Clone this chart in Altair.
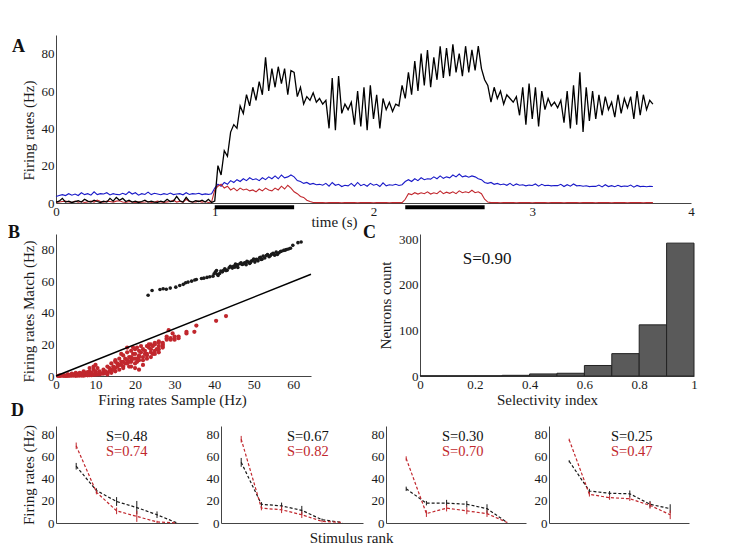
import altair as alt
import pandas as pd

FONT = "Liberation Serif"
RED = "#c1272d"
BLUE = "#1a1ac8"
INK = "#111111"

# ---------------- Panel A: firing-rate traces (sampled every 0.02 s) ----------------
SAMPLE_STEP = 0.02
black_rate = [
    0.5, 1.0, 2.5, 0.5, 1.0, 0.3, 0.8, 1.2, 0.5, 2.0,
    1.0, 0.5, 1.5, 0.8, 0.3, 1.0, 0.5, 2.5, 1.0, 3.0,
    1.5, 2.5, 0.8, 1.5, 0.5, 1.0, 0.3, 0.8, 1.5, 0.5,
    1.0, 0.5, 0.3, 1.0, 0.5, 2.0, 0.8, 1.0, 3.5, 1.2,
    0.5, 3.0, 1.0, 0.5, 1.2, 0.8, 1.5, 0.5, 2.0, 0.3,
    1, 20, 15, 28, 25, 38, 42, 40, 52, 48,
    58, 52, 62, 55, 65, 58, 78, 60, 72, 62,
    73, 64, 72, 58, 71, 70, 57, 62, 53, 57,
    55, 59, 54, 56, 53, 55, 40, 67, 39, 68,
    48, 53, 50, 54, 42, 60, 41, 62, 39, 63,
    45, 58, 40, 56, 50, 54, 49, 53, 52, 63,
    56, 70, 58, 76, 60, 80, 63, 82, 62, 78,
    66, 84, 67, 83, 68, 85, 70, 80, 68, 84,
    70, 82, 71, 84, 72, 66, 63, 54, 62, 56,
    60, 53, 58, 56, 54, 57, 47, 62, 42, 64,
    45, 62, 41, 60, 50, 56, 52, 54, 51, 55,
    43, 60, 40, 63, 42, 70, 38, 62, 44, 60,
    45, 58, 47, 57, 50, 54, 46, 58, 48, 56,
    51, 57, 45, 60, 47, 58, 50, 55, 53,
]
blue_rate = [
    3.5, 4.0, 4.5, 4.0, 5.0, 4.2, 4.8, 4.0, 5.5, 4.5,
    5.0, 4.2, 6.0, 4.5, 5.0, 4.8, 5.5, 4.3, 5.0, 4.6,
    4.4, 5.2, 4.5, 6.0, 4.8, 5.5, 4.2, 5.0, 4.6, 5.8,
    4.5, 5.2, 4.8, 4.4, 5.0, 4.6, 5.3, 4.5, 4.8, 5.0,
    4.4, 5.5, 4.6, 5.0, 4.8, 5.2, 4.5, 4.9, 4.6, 5.0,
    8, 10, 9, 11, 10, 12, 11, 12.5, 11.5, 13,
    12, 13.5, 12.5, 13, 12, 13.5, 12.5, 14, 13, 14.5,
    13, 15, 13.5, 14, 15, 14, 12, 11.5, 10.5, 11,
    10, 10.5, 9.8, 10, 9.5, 10.5, 9, 11, 9.5, 10,
    8.8, 9.5, 9.2, 10.5, 9, 11, 9.3, 10, 9, 10.5,
    9.5, 10, 8.8, 10.8, 9.2, 9.8, 9.5, 10, 9.4, 9.8,
    11.5, 12.5, 11.5, 13, 12, 13.5, 12.5, 13, 12.8, 14,
    13, 14.5, 13.2, 14, 13.5, 15, 14, 15.5, 14, 14.5,
    13.8, 14.5, 14, 13, 12.5, 11, 10.5, 11, 10, 10.5,
    9.8, 10.2, 9.5, 10.5, 9.3, 10.2, 9.5, 9.8, 9.2, 9.6,
    9.4, 10.2, 9, 10, 9.3, 9.5, 9.2, 9.4, 9.3, 10,
    8.8, 9.8, 9, 10.2, 9.2, 9.4, 9, 9.2, 8.8, 9,
    8.9, 9.6, 8.6, 9.8, 8.8, 9.3, 8.7, 9.5, 8.8, 9.1,
    8.9, 9.6, 8.5, 9.4, 8.8, 9, 8.7, 9, 8.8,
]
red_rate = [
    0.3, 0.5, 0.8, 1.0, 0.5, 0.3, 1.0, 0.5, 0.8, 0.3,
    0.6, 1.0, 0.5, 1.5, 0.8, 0.5, 1.0, 0.8, 0.5, 1.0,
    1.2, 0.5, 0.3, 0.8, 0.5, 0.3, 0.6, 0.4, 0.5, 0.8,
    0.3, 0.5, 1.0, 0.5, 0.3, 0.6, 0.8, 1.5, 0.5, 1.0,
    0.3, 2.0, 0.8, 0.5, 0.6, 1.0, 0.5, 0.8, 0.3, 0.5,
    7, 9, 10, 8, 9, 7, 8, 6.5, 8, 7,
    7.5, 6.5, 7, 6, 7.5, 6.5, 8, 7, 6.5, 8,
    7, 9, 7.5, 9.5, 8, 6, 5, 3.5, 3, 1.5,
    0.8, 0.3, 0.2, 0.3, 0.2, 0.1, 0.2, 0.3, 0.2, 0.2,
    0.1, 0.2, 0.3, 0.2, 0.2, 0.1, 0.2, 0.3, 0.2, 0.2,
    0.1, 0.2, 0.3, 0.2, 0.2, 0.1, 0.2, 0.3, 0.2, 0.2,
    2, 5, 4.5, 5.5, 4.8, 5.5, 5, 6, 4.8, 5.5,
    5, 6.5, 5, 5.8, 5.2, 6, 5, 6.5, 5.5, 6,
    5.5, 6.8, 5.5, 6, 5, 2, 0.5, 0.2, 0.3, 0.2,
    0.1, 0.2, 0.3, 0.2, 0.2, 0.1, 0.2, 0.3, 0.2, 0.2,
    0.1, 0.2, 0.3, 0.2, 0.2, 0.1, 0.2, 0.3, 0.2, 0.2,
    0.1, 0.2, 0.3, 0.2, 0.2, 0.1, 0.2, 0.3, 0.2, 0.2,
    0.1, 0.2, 0.3, 0.2, 0.2, 0.1, 0.2, 0.3, 0.2, 0.2,
    0.1, 0.2, 0.3, 0.2, 0.2, 0.1, 0.2, 0.3, 0.2,
]
stim_on = [1.0, 2.2]
stim_off = [1.5, 2.7]

# ---------------- Panel B: match vs sample scatter ----------------
b_black = [
    (23.3, 51.2), (24.3, 54.2), (26.3, 54.8), (27.1, 55.3), (27.9, 55.0), (28.9, 55.7),
    (30.3, 56.3), (31.3, 57.4), (32.2, 58.1), (32.8, 59.1), (33.4, 59.5), (34.3, 60.1),
    (35.1, 60.8), (35.5, 61.2), (36.8, 61.8), (37.4, 62.0), (38.2, 62.5), (38.9, 62.9),
    (39.7, 63.3), (40.0, 64.8), (40.3, 65.9), (40.6, 66.9), (41.0, 63.7), (41.4, 65.0),
    (42.1, 66.0), (42.7, 67.9), (43.3, 67.1), (43.8, 68.6), (44.1, 69.6), (44.6, 68.4),
    (45.2, 69.0), (45.6, 70.1), (46.0, 68.8), (46.5, 71.1), (47.1, 70.7), (47.7, 71.8),
    (48.1, 70.5), (48.6, 72.2), (49.0, 71.3), (49.4, 72.8), (49.8, 73.4), (50.3, 72.2),
    (50.7, 73.9), (51.1, 73.0), (51.5, 74.9), (51.9, 73.9), (52.4, 76.0), (52.8, 74.8),
    (53.2, 76.4), (53.9, 75.6), (54.5, 77.1), (54.9, 77.7), (55.3, 76.6), (55.7, 78.5),
    (56.4, 78.1), (57.0, 79.1), (57.6, 79.6), (58.3, 80.2), (59.9, 82.8), (61.2, 84.5),
    (62.0, 84.9), (40.8, 64.5), (41.7, 66.5), (42.4, 67.0), (44.9, 69.5), (45.9, 70.4),
    (46.8, 71.8), (47.4, 71.0), (48.3, 72.7), (49.2, 72.0), (50.0, 74.2), (50.9, 73.5),
    (51.7, 75.3), (52.1, 74.0), (53.5, 76.9), (54.2, 76.2), (55.0, 77.5), (56.0, 77.0),
    (56.8, 78.9), (58.0, 79.8), (58.8, 80.5), (59.3, 81.0), (43.0, 66.8), (45.4, 70.9),
    (47.9, 71.5),
]
b_red = [
    (0.5, 0.0), (1.0, 0.3), (1.5, 0.2), (2.0, 0.5), (2.5, 0.3), (3.0, 0.8), (3.5, 0.4),
    (4.0, 0.6), (4.5, 1.0), (5.0, 0.5), (5.5, 1.2), (6.0, 0.8), (6.5, 1.5), (7.0, 1.0),
    (7.5, 2.0), (8.0, 1.5), (8.5, 3.0), (9.0, 2.0), (9.5, 4.0), (10.0, 2.5), (10.5, 5.0),
    (11.0, 3.0), (2.0, 0.0), (3.0, 0.0), (4.0, 0.2), (5.0, 0.1), (6.0, 0.3), (7.0, 0.2),
    (8.0, 0.4), (9.0, 0.5), (10.0, 0.8), (11.0, 1.0), (12.0, 1.5), (12.5, 3.0), (13.0, 2.0),
    (13.5, 5.0), (14.0, 4.0), (14.5, 6.0), (15.0, 3.0), (15.5, 8.0), (16.0, 7.0), (16.5, 9.0),
    (17.0, 5.0), (17.5, 11.0), (18.0, 8.0), (18.5, 12.0), (19.0, 10.0), (19.5, 14.0),
    (20.0, 11.0), (20.5, 9.0), (21.0, 13.0), (21.5, 15.0), (22.0, 12.0), (22.5, 16.0),
    (23.0, 14.0), (23.5, 18.0), (24.0, 17.0), (24.5, 19.0), (25.0, 20.0), (25.5, 17.0),
    (26.0, 21.0), (27.0, 19.0), (28.0, 25.0), (28.5, 29.0), (29.0, 24.0), (29.5, 27.0),
    (30.0, 25.0), (31.0, 24.0), (33.0, 27.0), (35.0, 28.0), (35.5, 32.0), (40.5, 35.0),
    (43.0, 38.0), (18.0, 15.0), (19.0, 16.0), (20.0, 17.0), (17.0, 13.0), (16.0, 11.0),
    (18.5, 6.0), (19.0, 9.0), (20.0, 8.0), (21.0, 10.0), (22.0, 7.0), (23.0, 11.0),
    (24.0, 15.0), (25.0, 16.0), (26.0, 19.0), (27.0, 20.0), (19.5, 18.0), (20.5, 18.0),
    (21.5, 19.0), (22.0, 17.0), (23.0, 19.0), (24.0, 20.0), (25.0, 21.0), (26.0, 22.0),
    (27.0, 21.0), (28.0, 23.0), (14.0, 2.0), (13.0, 1.0), (15.0, 5.0), (16.0, 4.0),
    (17.0, 6.0), (12.0, 4.0), (11.0, 2.0), (10.0, 3.0), (9.0, 1.5), (8.0, 2.5), (7.0, 3.0),
    (6.0, 2.0), (5.0, 2.0), (4.0, 1.5), (3.0, 1.0), (7.5, 0.5), (6.5, 0.3), (5.5, 0.2),
    (4.5, 0.3), (9.5, 6.0), (8.5, 5.0), (10.0, 7.0), (15.0, 9.0), (16.5, 14.0), (18.0, 18.0),
    (19.0, 12.0), (21.0, 16.0), (22.5, 14.0), (20.0, 14.0), (18.0, 10.0), (17.0, 9.0),
    (19.0, 6.0), (20.0, 5.0), (21.0, 4.0), (15.0, 10.0), (14.0, 8.0), (13.0, 6.0),
    (12.0, 2.0), (23.5, 20.0), (24.5, 14.0), (26.0, 17.0), (28.0, 24.0), (30.0, 23.0),
    (33.0, 28.0), (29.0, 23.0), (31.0, 25.0), (27.0, 18.0), (22.0, 10.0), (23.0, 13.0),
    (24.0, 12.0), (25.0, 14.0), (26.0, 15.0), (21.0, 12.0), (20.5, 11.0), (19.5, 11.0),
    (18.5, 9.0), (17.5, 8.0), (16.5, 7.0), (15.5, 6.0), (14.5, 4.0), (13.5, 3.0),
    (12.5, 2.0), (11.5, 1.5), (10.5, 1.0), (9.5, 0.8), (8.5, 0.5), (1.0, 0.0), (1.5, 0.5),
    (2.5, 0.0), (3.5, 0.2), (0.8, 0.2), (6.0, 1.2), (7.0, 1.8), (8.0, 1.0),
]
diag = [0.0, 64.5]

# ---------------- Panel C: selectivity histogram ----------------
c_bin_lo = [0.0, 0.1, 0.2, 0.3, 0.4, 0.5, 0.6, 0.7, 0.8, 0.9]
c_bin_hi = [0.1, 0.2, 0.3, 0.4, 0.5, 0.6, 0.7, 0.8, 0.9, 1.0]
c_count = [0.5, 0.5, 0.5, 1.5, 4.5, 6, 23, 49, 112, 291]

# ---------------- Panel D: tuning curves ----------------
d_rank = [1, 2, 3, 4, 5, 6]
d_black = [
    [51.5, 29.5, 19.5, 14.0, 7.5, 0.0],
    [55.0, 17.0, 15.5, 11.5, 3.0, 0.5],
    [31.0, 18.0, 18.0, 17.0, 13.0, 0.5],
    [56.0, 29.0, 27.0, 26.5, 17.0, 13.0],
]
d_black_err = [
    [3, 2, 4, 6, 3, 0],
    [4, 2, 3, 4, 1, 0],
    [2, 2, 3, 3, 4, 0],
    [1, 2, 2, 3, 3, 4],
]
d_red = [
    [70.0, 28.0, 11.0, 6.0, 1.0, 0.0],
    [76.0, 13.5, 12.0, 7.5, 1.5, 0.5],
    [58.5, 8.5, 13.5, 11.0, 8.5, 0.5],
    [75.5, 26.0, 23.0, 22.0, 16.0, 7.5],
]
d_red_err = [
    [3, 2, 3, 5, 1, 0],
    [3, 2, 3, 3, 1, 0],
    [2, 3, 3, 3, 3, 0],
    [1, 2, 2, 2, 3, 4],
]
d_s_black = ["S=0.48", "S=0.67", "S=0.30", "S=0.25"]
d_s_red = ["S=0.74", "S=0.82", "S=0.70", "S=0.47"]
panel_letters = ["A", "B", "C", "D"]


def letter(txt, px, py):
    """Panel letter annotation, placed relative to the panel's plot area."""
    return alt.Chart(pd.DataFrame({"label": [txt]})).mark_text(
        font=FONT, fontSize=18, fontWeight="bold", color=INK, align="left", baseline="top"
    ).encode(text="label:N", x=alt.value(px), y=alt.value(py))


# ---- A ----
def series_df(values):
    return pd.DataFrame({"t": [round(i * SAMPLE_STEP, 2) for i in range(len(values))],
                         "rate": values})


scaleA_y = alt.Scale(domain=[0, 90], nice=False)
axisA_y = alt.Axis(values=[0, 20, 40, 60, 80], title="Firing rates (Hz)", titleY=95)
xA = alt.X("t:Q", scale=alt.Scale(domain=[0, 4], nice=False),
           axis=alt.Axis(values=[0, 1, 2, 3, 4], format="d", title="time (s)",
                         titleX=278, titleY=11, titleBaseline="top"))
yA = alt.Y("rate:Q", scale=scaleA_y, axis=axisA_y)

blue_line = alt.Chart(series_df(blue_rate)).mark_line(color=BLUE, strokeWidth=1.1).encode(x=xA, y=yA)
red_line = alt.Chart(series_df(red_rate)).mark_line(color=RED, strokeWidth=1.1).encode(x=xA, y=yA)
black_line = alt.Chart(series_df(black_rate)).mark_line(color="black", strokeWidth=1.3).encode(x=xA, y=yA)
stim_bars = alt.Chart(pd.DataFrame({"t": stim_on, "t_end": stim_off})).mark_rule(
    color="black", strokeWidth=4).encode(
    x=xA, x2="t_end:Q", y=alt.YDatum(-2.3, scale=scaleA_y, axis=axisA_y))

panel_a = alt.layer(blue_line, red_line, black_line, stim_bars,
                    letter(panel_letters[0], -44, 3)).properties(width=635, height=168)

# ---- B ----
xB = alt.X("x:Q", scale=alt.Scale(domain=[0, 64.5], nice=False),
           axis=alt.Axis(values=[0, 10, 20, 30, 40, 50, 60], title="Firing rates Sample (Hz)",
                         titleX=116, titleY=16, titleBaseline="top"))
yB = alt.Y("y:Q", scale=alt.Scale(domain=[0, 90], nice=False),
           axis=alt.Axis(values=[0, 20, 40, 60, 80], title="Firing rates Match (Hz)", titleY=77))

red_pts = alt.Chart(pd.DataFrame(b_red, columns=["x", "y"])).mark_circle(
    color=RED, size=18, opacity=1).encode(x=xB, y=yB)
diag_line = alt.Chart(pd.DataFrame({"x": diag, "y": diag})).mark_line(
    color="black", strokeWidth=1.5).encode(x=xB, y=yB)
black_pts = alt.Chart(pd.DataFrame(b_black, columns=["x", "y"])).mark_circle(
    color="#1a1a1a", size=13, opacity=1).encode(x=xB, y=yB)
panel_b = alt.layer(red_pts, diag_line, black_pts,
                    letter(panel_letters[1], -48, -10)).properties(width=255, height=142)

# ---- C ----
scaleC_x = alt.Scale(domain=[0, 1], nice=False)
scaleC_y = alt.Scale(domain=[0, 311], nice=False)
axisC_x = alt.Axis(values=[0, 0.2, 0.4, 0.6, 0.8, 1], format="~g", title="Selectivity index",
                   titleX=127, titleY=16, titleBaseline="top")
axisC_y = alt.Axis(values=[0, 100, 200, 300], title="Neurons count")
xC = alt.X("lo:Q", scale=scaleC_x, axis=axisC_x)
yC = alt.Y("count:Q", scale=scaleC_y, axis=axisC_y)
hist = alt.Chart(pd.DataFrame({"lo": c_bin_lo, "hi": c_bin_hi, "count": c_count})).mark_rect(
    fill="#5a5a5a", stroke="#222222", strokeWidth=1).encode(x=xC, x2="hi:Q", y=yC, y2=alt.datum(0))
s_text = alt.Chart(pd.DataFrame({"label": ["S=0.90"]})).mark_text(
    font=FONT, fontSize=17, color=INK).encode(
    x=alt.XDatum(0.245, scale=scaleC_x, axis=axisC_x),
    y=alt.YDatum(256, scale=scaleC_y, axis=axisC_y), text="label:N")
panel_c = alt.layer(hist, s_text, letter(panel_letters[2], -57, -10)).properties(width=274, height=142)


# ---- D ----
def d_panel(i, width):
    xmax = width / 20.2
    ax_kw = dict(values=d_rank, labels=False, ticks=False)
    if i == 1:
        xaxis = alt.Axis(title="Stimulus rank", titleX=130, titleY=7, titleBaseline="top", **ax_kw)
    else:
        xaxis = alt.Axis(title=None, **ax_kw)
    yaxis = alt.Axis(values=[0, 20, 40, 60, 80], title="Firing rates (Hz)" if i == 0 else None,
                     labelOverlap=False)
    yscale = alt.Scale(domain=[0, 88], nice=False)
    xscale = alt.Scale(domain=[0, xmax], nice=False)
    x = alt.X("rank:Q", scale=xscale, axis=xaxis)
    y = alt.Y("rate:Q", scale=yscale, axis=yaxis)
    y_lo = alt.Y("lo:Q", scale=yscale, axis=yaxis)
    layers = []
    for vals, errs, col in ((d_black[i], d_black_err[i], "#1a1a1a"), (d_red[i], d_red_err[i], RED)):
        df = pd.DataFrame({"rank": d_rank, "rate": vals, "err": errs})
        df["lo"] = df["rate"] - df["err"]
        df["hi"] = df["rate"] + df["err"]
        base = alt.Chart(df)
        layers.append(base.mark_line(color=col, strokeWidth=1.2, strokeDash=[3, 2]).encode(x=x, y=y))
        layers.append(base.mark_rule(color=col, strokeWidth=1).encode(x=x, y=y_lo, y2="hi:Q"))
    sx = [3.5, 4.3, 3.8, 4.1][i]
    for lab, level, col in ((d_s_black[i], 78, INK), (d_s_red[i], 64.5, RED)):
        layers.append(alt.Chart(pd.DataFrame({"label": [lab]})).mark_text(
            font=FONT, fontSize=14.5, color=col).encode(
            x=alt.XDatum(sx, scale=xscale, axis=xaxis),
            y=alt.YDatum(level, scale=yscale, axis=yaxis), text="label:N"))
    if i == 0:
        layers.append(letter(panel_letters[3], -45, -24))
    return alt.layer(*layers).properties(width=width, height=97)


d_widths = [142, 142, 140, 140]
row_bc = alt.hconcat(panel_b, panel_c, spacing=109, bounds="flush")
row_d = alt.hconcat(*[d_panel(i, w) for i, w in enumerate(d_widths)], spacing=23, bounds="flush")

chart = alt.vconcat(panel_a, row_bc, row_d, spacing=-5).properties(
    padding={"left": 0, "top": 27, "right": 0, "bottom": 0}
).configure_view(stroke=None).configure_axis(
    labelFont=FONT, titleFont=FONT, labelFontSize=13, titleFontSize=15,
    titleFontWeight="normal", labelColor="#1a1a1a", titleColor="#1a1a1a",
    domainColor="#444444", grid=False, ticks=False, labelPadding=2, titlePadding=5,
    labelFlush=False, labelOverlap=False
).configure_text(font=FONT)

chart.save("out.html", embed_options={"renderer": "svg", "actions": False})
